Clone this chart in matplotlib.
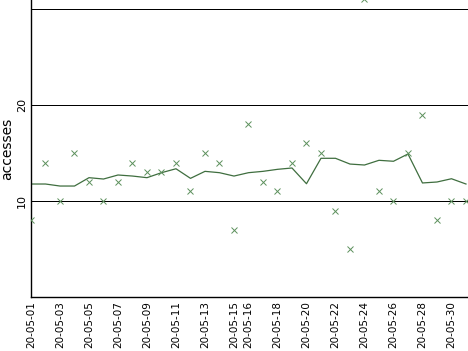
import numpy as np
import matplotlib
matplotlib.use('Agg')
import matplotlib.pyplot as plt

days = np.arange(1, 32)
accesses = [8, 14, 10, 15, 12, 10, 12, 14, 13, 13, 14, 11, 15, 14, 7, 18,
            12, 11, 14, 16, 15, 9, 5, 31, 11, 10, 15, 19, 8, 10, 10]
trend = [11.77, 11.77, 11.56, 11.56, 12.43, 12.29, 12.71, 12.60, 12.43, 12.95,
         13.36, 12.36, 13.09, 12.95, 12.60, 12.95, 13.09, 13.30, 13.44, 11.80,
         14.45, 14.45, 13.85, 13.75, 14.24, 14.14, 14.90, 11.88, 11.98, 12.32,
         11.77]
tick_days = [1, 3, 5, 7, 9, 11, 13, 15, 16, 18, 20, 22, 24, 26, 28, 30]
tick_labels = ['20-05-%02d' % d for d in tick_days]

fig = plt.figure(figsize=(4.68, 3.51), dpi=100)
ax = fig.add_axes([31/468, 54/351, 437/468, 297/351])

for g in [10, 20, 30]:
    ax.axhline(g, color='black', linewidth=0.72, antialiased=False, zorder=1)

ax.plot(days, trend, color='#3f6e3f', linewidth=0.9, zorder=2)
ax.plot(days, accesses, linestyle='none', marker='x', markersize=4.5,
        markeredgewidth=0.7, color='#5c905c', zorder=3)

ax.set_xlim(1, 31.14)
ax.set_ylim(0, 30.94)
ax.set_yticks([10, 20])
ax.set_yticklabels(['10', '20'], rotation=90, va='center', fontsize=8)
ax.set_xticks(tick_days)
ax.set_xticklabels(tick_labels, rotation=90, fontsize=7.5)
ax.tick_params(length=0, pad=3)
ax.set_ylabel('accesses', fontsize=10, labelpad=2)

for s in ['top', 'right']:
    ax.spines[s].set_visible(False)
for s in ['left', 'bottom']:
    ax.spines[s].set_linewidth(1.0)

fig.savefig('out.png', dpi=100)
